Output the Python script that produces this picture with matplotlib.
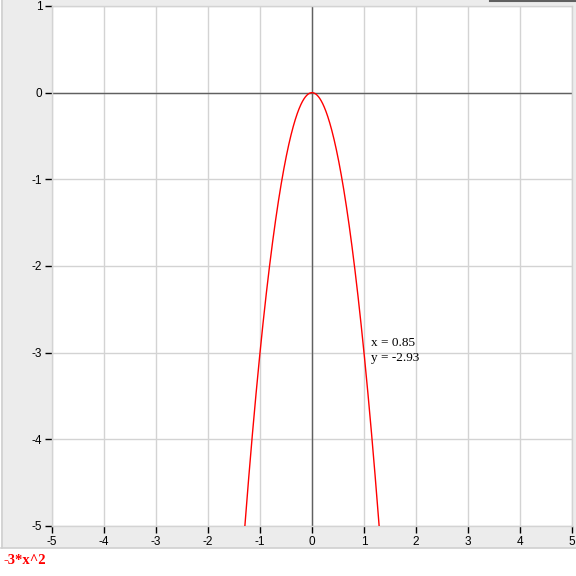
import numpy as np
import matplotlib
matplotlib.use("Agg")
import matplotlib.pyplot as plt
from matplotlib.patches import Rectangle
from matplotlib.lines import Line2D

# Data
coef = -3.0                      # y = coef * x^2
x_limits = [-5, 5]
y_limits = [-5, 1]
x_ticks = [-5, -4, -3, -2, -1, 0, 1, 2, 3, 4, 5]
y_ticks = [-5, -4, -3, -2, -1, 0, 1]
cursor_x = 0.85
cursor_y = -2.93
label = "-3*x^2"

fig = plt.figure(figsize=(5.76, 5.76), dpi=100)
fig.patch.set_facecolor("white")

# gray panel
fig.patches.append(Rectangle((1/576, 28/576), 575/576, 548/576, transform=fig.transFigure,
                             facecolor="#ececec", edgecolor="none", zorder=-5))
fig.lines.append(Line2D([1.5/576, 1.5/576], [28/576, 1], transform=fig.transFigure,
                        color="#d0d0d0", lw=1.2, zorder=-4))
fig.lines.append(Line2D([1/576, 1], [28/576, 28/576], transform=fig.transFigure,
                        color="#d0d0d0", lw=1.2, zorder=-4))
fig.lines.append(Line2D([490/576, 1], [575.5/576, 575.5/576], transform=fig.transFigure,
                        color="#606060", lw=1.5, zorder=-4))

ax = fig.add_axes([52/576, 50/576, 520/576, 520/576])
ax.set_zorder(2)
ax.set_facecolor("white")
ax.set_xlim(*x_limits)
ax.set_ylim(*y_limits)
ax.set_xticks(x_ticks)
ax.set_yticks(y_ticks)
ax.set_xticklabels([str(t) for t in x_ticks])
ax.set_yticklabels([str(t) for t in y_ticks])
ax.grid(True, color="#d3d3d3", lw=1.0)
ax.set_axisbelow(True)
for s in ax.spines.values():
    s.set_color("#d3d3d3")
    s.set_linewidth(1.0)
ax.tick_params(direction="out", length=5, width=1, color="black",
               labelsize=8.5, pad=2)
for t in ax.get_xticklabels() + ax.get_yticklabels():
    t.set_family("Liberation Sans")

ax.axhline(0, color="#606060", lw=1.0, zorder=2)
ax.axvline(0, color="#606060", lw=1.0, zorder=2)

xb = np.sqrt(y_limits[0] / coef)
xs = np.linspace(-xb, xb, 600)
ax.plot(xs, coef * xs**2, color="red", lw=1.0, zorder=3)

ax.annotate(f"x = {cursor_x:.2f}\ny = {cursor_y:.2f}", xy=(cursor_x, cursor_y),
            xytext=(11, 7), textcoords="offset points", ha="left", va="top",
            fontsize=9.5, family="Liberation Serif", linespacing=1.35)

fig.text(4/576, 1 - 560/576, label, color="red", fontsize=10.5, fontweight="bold",
         family="Liberation Serif", va="center", ha="left")

fig.savefig("out.png", dpi=100)
